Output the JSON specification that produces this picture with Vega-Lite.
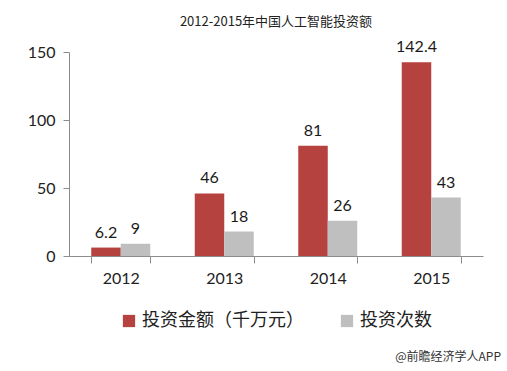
{
  "$schema": "https://vega.github.io/schema/vega-lite/v6.json",
  "padding": {"left": 27, "top": 16, "right": 5, "bottom": 5},
  "background": "white",
  "title": {"text": "@前瞻经济学人APP", "orient": "bottom", "anchor": "end", "font": "Noto Sans CJK SC", "fontSize": 12, "fontWeight": "normal", "color": "#333333", "dx": 18, "offset": 22},
  "data": {
    "values": [
      {"year": "2012", "series": "投资金额（千万元）", "value": 6.2},
      {"year": "2012", "series": "投资次数", "value": 9},
      {"year": "2013", "series": "投资金额（千万元）", "value": 46},
      {"year": "2013", "series": "投资次数", "value": 18},
      {"year": "2014", "series": "投资金额（千万元）", "value": 81},
      {"year": "2014", "series": "投资次数", "value": 26},
      {"year": "2015", "series": "投资金额（千万元）", "value": 142.4},
      {"year": "2015", "series": "投资次数", "value": 43}
    ]
  },
  "vconcat": [
    {
      "width": 414,
      "height": 204,
      "title": {"text": "2012-2015年中国人工智能投资额", "font": "Noto Sans CJK SC", "fontSize": 13, "fontWeight": "normal", "color": "#222222", "anchor": "middle", "offset": 10},
      "encoding": {
        "x": {"field": "year", "type": "nominal", "title": null,
          "scale": {"paddingInner": 0.43, "paddingOuter": 0.215},
          "axis": {"labelAngle": 0, "labelFont": "Lato", "labelFontSize": 16, "labelColor": "#222222", "labelPadding": 7, "domainColor": "#8c8c8c", "tickColor": "#8c8c8c", "tickSize": 7, "tickBand": "extent", "grid": false}},
        "xOffset": {"field": "series", "type": "nominal", "sort": ["投资金额（千万元）", "投资次数"], "scale": {"paddingInner": 0, "paddingOuter": 0}},
        "y": {"field": "value", "type": "quantitative", "title": null,
          "scale": {"domain": [0, 150]},
          "axis": {"values": [0, 50, 100, 150], "labelFont": "Lato", "labelFontSize": 16, "labelColor": "#222222", "labelPadding": 8, "domainColor": "#8c8c8c", "tickColor": "#8c8c8c", "tickSize": 6, "grid": false}}
      },
      "layer": [
        {
          "mark": {"type": "bar"},
          "encoding": {
            "color": {"field": "series", "type": "nominal", "sort": ["投资金额（千万元）", "投资次数"],
              "scale": {"range": ["#B5423F", "#BFBFBF"]},
              "legend": {"title": null, "orient": "bottom", "direction": "horizontal", "symbolType": "square", "symbolSize": 150, "symbolStrokeWidth": 0, "labelFont": "Noto Sans CJK SC", "labelFontSize": 18, "labelColor": "#222222", "labelLimit": 400, "columnPadding": 34, "labelOffset": 4, "offset": 26}}
          }
        },
        {
          "mark": {"type": "text", "baseline": "alphabetic", "dy": -10, "font": "Lato", "fontSize": 16, "color": "#1a1a1a"},
          "encoding": {
            "text": {"field": "value", "type": "quantitative", "format": ".4~g"}
          }
        }
      ]
    }
  ],
  "config": {"view": {"stroke": null}, "legend": {"layout": {"bottom": {"anchor": "middle"}}}}
}
